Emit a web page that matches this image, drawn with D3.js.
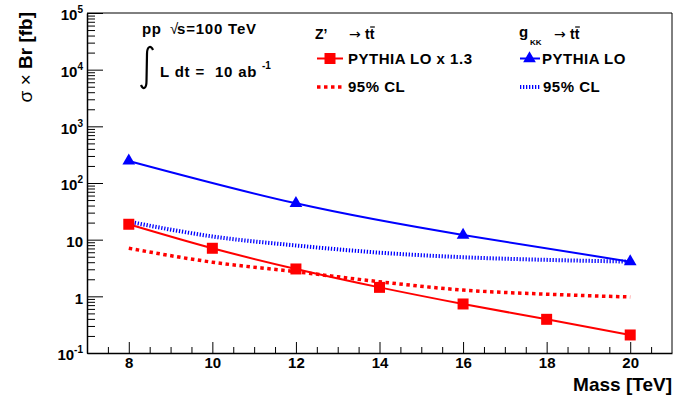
<!DOCTYPE html>
<html><head><meta charset="utf-8">
<script src="https://cdn.jsdelivr.net/npm/d3@7/dist/d3.min.js"></script>
<style>body{margin:0;background:#fff} svg{display:block}</style>
</head><body><svg id="c" width="673" height="403"></svg>
<script>
// ---- data ----
const massZ = [8, 10, 12, 14, 16, 18, 20];
const zprimeXsec = [18.7, 7.05, 3.04, 1.44, 0.733, 0.393, 0.208];
const zprimeLimit = [7.05, 4.0, 2.72, 1.81, 1.29, 1.09, 0.975];
const massG = [8, 12, 16, 20];
const gkkXsec = [245, 43.8, 12.1, 4.09];
const massLimitG = [8, 10, 12, 14, 16, 18, 20];
const gkkLimit = [20.8, 11.4, 7.9, 5.9, 4.9, 4.4, 4.1];
const xMajorTicks = [8, 10, 12, 14, 16, 18, 20];
const yMajorTicks = [0.1, 1, 10, 100, 1000, 10000, 100000];
const yTickBase = ["10", "1", "10", "10", "10", "10", "10"];
const yTickExp = ["-1", "", "", "2", "3", "4", "5"];

const FONT = "'Liberation Sans', Arial, Helvetica, sans-serif";
const RED = "#ff0000", BLUE = "#0000ff";

const svg = d3.select("#c");
svg.append("rect").attr("width", 673).attr("height", 403).attr("fill", "#fff");

const L = 87, R = 672, T = 13, B = 353;
const x = d3.scaleLinear().domain([7, 21]).range([L, R]);
const y = d3.scaleLog().domain([0.1, 1e5]).range([B, T]);

// frame top/right
svg.append("path").attr("d", `M${L},${T}H${R}V${B}`).attr("fill", "none").attr("stroke", "#000").attr("stroke-width", 1);

// ---- axes ----
const xMinor = d3.range(7.5, 21, 0.5).filter(v => xMajorTicks.indexOf(v) < 0);
svg.append("g").attr("transform", `translate(0,${B})`)
  .call(d3.axisBottom(x).tickValues(xMinor).tickSize(-6).tickFormat(""))
  .call(g => g.select(".domain").remove())
  .selectAll("line").attr("stroke", "#000");
const xa = svg.append("g").attr("transform", `translate(0,${B})`)
  .call(d3.axisBottom(x).tickValues(xMajorTicks).tickSize(-11).tickSizeOuter(0).tickPadding(4).tickFormat(d3.format("d")));
xa.select(".domain").attr("stroke-width", 1.5);
xa.selectAll("text").attr("font-family", FONT).attr("font-weight", "bold").attr("font-size", 15).attr("fill", "#000");

const yMinor = y.ticks().filter(v => yMajorTicks.every(m => Math.abs(m - v) / v > 1e-6));
svg.append("g").attr("transform", `translate(${L},0)`)
  .call(d3.axisLeft(y).tickValues(yMinor).tickSize(-8).tickFormat(""))
  .call(g => g.select(".domain").remove());
const ya = svg.append("g").attr("transform", `translate(${L},0)`)
  .call(d3.axisLeft(y).tickValues(yMajorTicks).tickSize(-16).tickSizeOuter(0).tickPadding(4).tickFormat(""));
ya.select(".domain").attr("stroke-width", 1.5);
ya.selectAll(".tick text").each(function(d) {
  const i = yMajorTicks.indexOf(d);
  const t = d3.select(this).attr("font-family", FONT).attr("font-weight", "bold")
    .attr("font-size", 15).attr("fill", "#000").attr("dy", "0.45em");
  t.append("tspan").text(yTickBase[i]);
  if (yTickExp[i]) t.append("tspan").attr("font-size", 10).attr("dy", -7).text(yTickExp[i]);
});

// axis titles
svg.append("text").attr("x", R).attr("y", 391).attr("text-anchor", "end")
  .attr("font-family", FONT).attr("font-weight", "bold").attr("font-size", 19).text("Mass [TeV]");
const yt = svg.append("text").attr("transform", "translate(32,12) rotate(-90)").attr("text-anchor", "end")
  .attr("font-family", FONT).attr("font-size", 19);
yt.append("tspan").text("σ × ");
yt.append("tspan").attr("font-weight", "bold").text("Br [fb]");

// ---- curves ----
const plot = svg.append("g");
plot.append("path").datum(massLimitG.map((m, i) => [m, gkkLimit[i]]))
  .attr("d", d3.line().x(d => x(d[0])).y(d => y(d[1])).curve(d3.curveMonotoneX))
  .attr("fill", "none").attr("stroke", BLUE).attr("stroke-width", 4).attr("stroke-dasharray", "1.3,1.7");
plot.append("path").datum(massZ.map((m, i) => [m, zprimeLimit[i]]))
  .attr("d", d3.line().x(d => x(d[0])).y(d => y(d[1])).curve(d3.curveMonotoneX))
  .attr("fill", "none").attr("stroke", RED).attr("stroke-width", 3.5).attr("stroke-dasharray", "3.5,3.5");
plot.append("path").datum(massG.map((m, i) => [m, gkkXsec[i]]))
  .attr("d", d3.line().x(d => x(d[0])).y(d => y(d[1])).curve(d3.curveNatural))
  .attr("fill", "none").attr("stroke", BLUE).attr("stroke-width", 2);
plot.append("path").datum(massZ.map((m, i) => [m, zprimeXsec[i]]))
  .attr("d", d3.line().x(d => x(d[0])).y(d => y(d[1])).curve(d3.curveMonotoneX))
  .attr("fill", "none").attr("stroke", RED).attr("stroke-width", 2);

const sq = d3.symbol().type(d3.symbolSquare).size(121);
const tri = d3.symbol().type(d3.symbolTriangle).size(70);
plot.selectAll(".sq").data(massZ.map((m, i) => [m, zprimeXsec[i]])).join("path")
  .attr("d", sq).attr("transform", d => `translate(${x(d[0])},${y(d[1])})`).attr("fill", RED);
plot.selectAll(".tri").data(massG.map((m, i) => [m, gkkXsec[i]])).join("path")
  .attr("d", tri).attr("transform", d => `translate(${x(d[0])},${y(d[1])})`).attr("fill", BLUE);

// ---- text annotations ----
function bt(xp, yp, s, size, weight, fam) {
  return svg.append("text").attr("x", xp).attr("y", yp).attr("font-family", fam || FONT)
    .attr("font-size", size).attr("font-weight", weight || "bold").attr("fill", "#000").text(s);
}
bt(142, 34, "pp", 15).attr("letter-spacing", 0.5);
bt(170, 34, "√", 15, "normal");
bt(177, 34, "s=100 TeV", 15).attr("letter-spacing", 0.8);
svg.append("path").attr("d", "M153,50 C151,45 147,46 147,54 L146.5,81 C146.5,89 143,90 141,85")
  .attr("fill", "none").attr("stroke", "#000").attr("stroke-width", 2.2);
bt(160, 77, "L dt =  10 ab", 15).attr("letter-spacing", 0.8).style("white-space", "pre");
bt(262, 69, "-1", 10);

function ttbar(xp, yp) {
  const t = bt(xp, yp, "tt", 14);
  const n = t.node();
  const s = n.getStartPositionOfChar(1), e = n.getEndPositionOfChar(1);
  svg.append("line").attr("x1", s.x + 0.5).attr("x2", e.x + 0.5).attr("y1", yp - 12).attr("y2", yp - 12)
    .attr("stroke", "#000").attr("stroke-width", 1.2);
}
bt(315, 39, "Z’", 14);
bt(349, 39, "→", 14, "normal", "'DejaVu Sans', sans-serif");
ttbar(365, 39);
bt(519, 37, "g", 15);
bt(530, 45, "KK", 8);
bt(554, 39, "→", 14, "normal", "'DejaVu Sans', sans-serif");
ttbar(570, 39);

// legend
const legY1 = 58.5, legY2 = 87;
svg.append("line").attr("x1", 317).attr("x2", 343).attr("y1", legY1).attr("y2", legY1).attr("stroke", RED).attr("stroke-width", 2);
svg.append("path").attr("d", sq).attr("transform", `translate(330,${legY1})`).attr("fill", RED);
bt(348, 63.5, "PYTHIA LO x 1.3", 15).attr("letter-spacing", 0.5);
svg.append("line").attr("x1", 317).attr("x2", 343).attr("y1", legY2).attr("y2", legY2).attr("stroke", RED).attr("stroke-width", 3.5).attr("stroke-dasharray", "3.5,3.5");
bt(348, 92, "95% CL", 15).attr("letter-spacing", 0.5);

svg.append("line").attr("x1", 520).attr("x2", 540).attr("y1", legY1).attr("y2", legY1).attr("stroke", BLUE).attr("stroke-width", 2);
svg.append("path").attr("d", tri).attr("transform", `translate(529.5,${legY1})`).attr("fill", BLUE);
bt(542, 63.5, "PYTHIA LO", 15).attr("letter-spacing", 0.5);
svg.append("line").attr("x1", 520).attr("x2", 540).attr("y1", legY2).attr("y2", legY2).attr("stroke", BLUE).attr("stroke-width", 4).attr("stroke-dasharray", "1.3,1.7");
bt(543, 92, "95% CL", 15).attr("letter-spacing", 0.5);
</script></body></html>
